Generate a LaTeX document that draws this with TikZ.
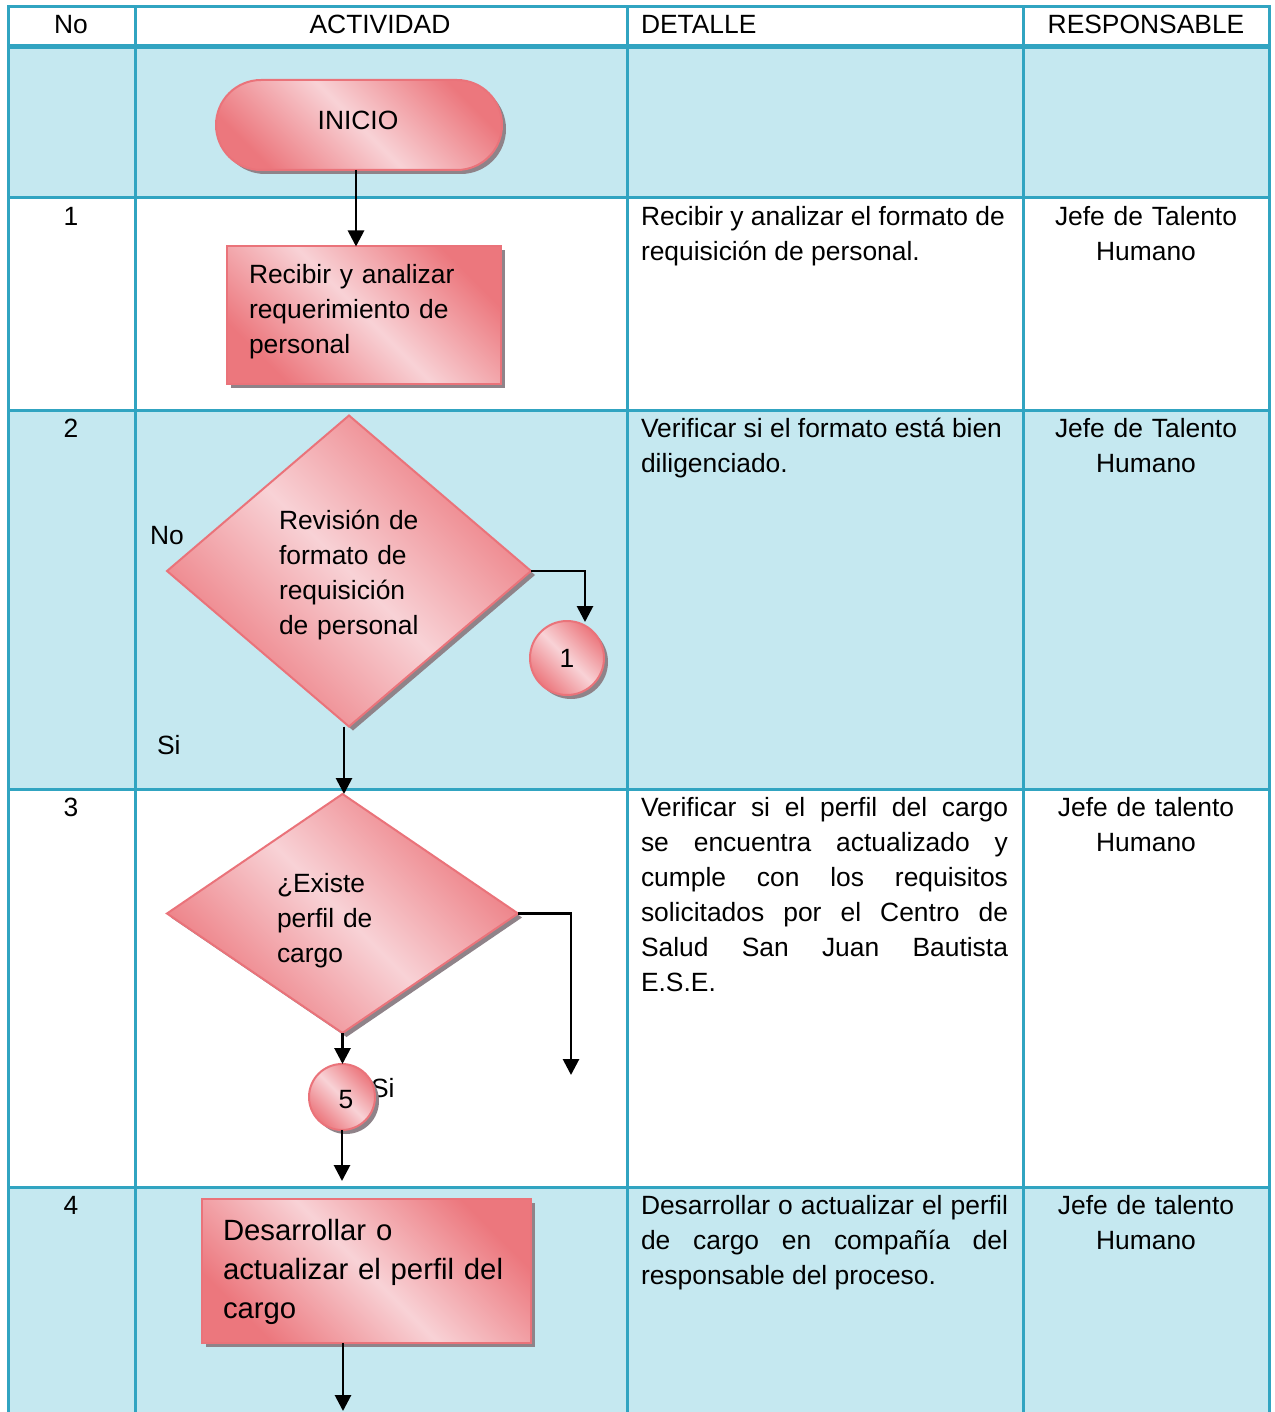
\documentclass[tikz,border=0pt]{standalone}
\usepackage{fontspec}
\setmainfont{Liberation Sans}
\usetikzlibrary{shapes.geometric,shadows,arrows.meta,calc}
\definecolor{tl}{HTML}{31A4C1}
\definecolor{lb}{HTML}{C5E8F0}
\definecolor{pl}{HTML}{F8D2D6}
\definecolor{pd}{HTML}{EC777D}
\definecolor{pb}{HTML}{EA737A}
\definecolor{sg}{HTML}{8F8389}
\begin{document}
\begin{tikzpicture}[x=1pt,y=-1pt,
  every node/.style={font=\fontsize{26.4}{35}\selectfont, inner sep=0pt, outer sep=0pt},
  grid/.style={draw=tl, line width=3pt},
  pinkshape/.style={draw=pb, line width=2pt, top color=pd, bottom color=pd, middle color=pl, shading angle=-45,
     drop shadow={shadow xshift=4pt, shadow yshift=-4pt, fill=sg, opacity=1}},
  arr/.style={line width=2.8pt, -{Triangle[length=16pt,width=16pt]}},
  det/.style={text width=367pt, align=justify, anchor=base west},
  resp/.style={text width=240pt, align=center, anchor=base},
  num/.style={anchor=base},
  intext/.style={anchor=base west, align=left, text width=300pt},
]
\useasboundingbox (0,0) rectangle (1274,1412);
\fill[white] (0,0) rectangle (1274,1412);
% row backgrounds
\fill[lb] (8,47) rectangle (1270,198);
\fill[lb] (8,410) rectangle (1270,789);
\fill[lb] (8,1187) rectangle (1270,1412);
% grid
\draw[grid] (8,7) -- (1270,7);
\draw[draw=tl, line width=5pt] (8,47) -- (1270,47);
\draw[grid] (8,198) -- (1270,198);
\draw[grid] (8,410) -- (1270,410);
\draw[grid] (8,789) -- (1270,789);
\draw[grid] (8,1187) -- (1270,1187);
\foreach \xx in {8,135,627,1023,1269} {\draw[grid] (\xx,5.5) -- (\xx,1412);}
% header
\node[anchor=base] (hno) at (71,33.5) {No};
\node[anchor=base] (hact) at (380,33.5) {ACTIVIDAD};
\node[anchor=base west] (hdet) at (641,33.5) {DETALLE};
\node[anchor=base] (hresp) at (1146,33.5) {RESPONSABLE};
% numbers
\node[num] (n1) at (71,225.5) {1};
\node[num] (n2) at (71,437.5) {2};
\node[num] (n3) at (71,816.5) {3};
\node[num] (n4) at (71,1214.5) {4};
% details
\node[det] (det1) at (641,225.5) {Recibir y analizar el formato de\\requisición de personal.};
\node[det] (det2) at (641,437.5) {Verificar si el formato está bien\\diligenciado.};
\node[det] (det3) at (641,816.5) {Verificar si el perfil del cargo\linebreak se encuentra actualizado y\linebreak cumple con los requisitos\linebreak solicitados por el Centro de\linebreak Salud San Juan Bautista\linebreak E.S.E.};
\node[det] (det4) at (641,1214.5) {Desarrollar o actualizar el perfil\linebreak de cargo en compañía del\linebreak responsable del proceso.};
% responsables
\node[resp] (r1) at (1146,225.5) {Jefe de Talento\\Humano};
\node[resp] (r2) at (1146,437.5) {Jefe de Talento\\Humano};
\node[resp] (r3) at (1146,816.5) {Jefe de talento\\Humano};
\node[resp] (r4) at (1146,1214.5) {Jefe de talento\\Humano};
% shapes
\node[pinkshape, rounded corners=45pt, minimum width=286pt, minimum height=90pt] (inicio) at (359,125) {};
\node (tinicio) at (358,120) {INICIO};
\node[pinkshape, minimum width=274pt, minimum height=137pt] (box1) at (364,315) {};
\node[intext] (tbox1) at (249,283.5) {Recibir y analizar\\requerimiento de\\personal};
\node[pinkshape, diamond, minimum width=364pt, minimum height=311pt] (d1) at (349,571) {};
\node[intext] (td1) at (279,529.5) {Revisión de\\formato de\\requisición\\de personal};
\node[anchor=base west] (lno) at (150,544.5) {No};
\node[anchor=base west] (lsi1) at (157,754.5) {Si};
\node[pinkshape, circle, minimum size=74pt] (c1) at (567,658) {1};
\node[pinkshape, diamond, minimum width=351pt, minimum height=239pt] (d2) at (342.5,913.5) {};
\node[intext] (td2) at (277,892.5) {¿Existe\\perfil de\\cargo};
\node[anchor=base west] (lsi2) at (371,1097.5) {Si};
\node[pinkshape, circle, minimum size=66pt] (c5) at (342,1097) {};
\node (t5) at (346,1100) {5};
\node[pinkshape, minimum width=329pt, minimum height=144pt] (box4) at (366.5,1271) {};
\node[intext, font=\fontsize{29.3}{39}\selectfont] (tbox4) at (223,1240.5) {Desarrollar o\\actualizar el perfil del\\cargo};
% connectors
\coordinate (ax1) at (356,0);
\coordinate (ax2) at (344,0);
\coordinate (c1in) at (585,622);
\coordinate (d2no) at (571,1075);
\coordinate (c5out) at (343,1181);
\coordinate (b4out) at (343,1411);
\draw[arr] (inicio.south -| ax1) -- (box1.north -| ax1);
\draw[arr] (d1.south -| ax2) -- (d2.north -| ax2);
\draw[arr] (d1.east) -| (c1in);
\draw[arr] (d2.east) -| (d2no);
\draw[arr] (d2.south) -- (d2.south |- c5.north);
\draw[arr] (c5.south) -- (c5.south |- c5out);
\draw[arr] (box4.south -| b4out) -- (b4out);
\end{tikzpicture}
\end{document}
